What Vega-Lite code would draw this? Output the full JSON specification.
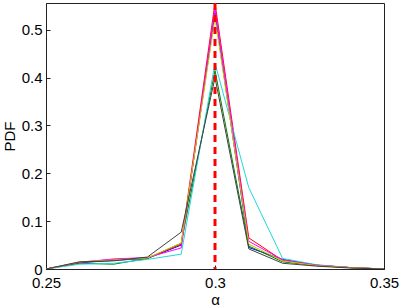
{
  "$schema": "https://vega.github.io/schema/vega-lite/v6.json",
  "width": 338,
  "height": 266,
  "autosize": "none",
  "padding": {"left": 46, "top": 3, "right": 18, "bottom": 37},
  "background": "white",
  "config": {
    "view": {"stroke": "#222", "strokeWidth": 1},
    "font": "Liberation Sans",
    "axis": {
      "grid": false,
      "domainColor": "#222",
      "tickColor": "#222",
      "labelColor": "#000",
      "titleColor": "#000",
      "labelFont": "Liberation Sans",
      "titleFont": "Liberation Sans",
      "labelFontSize": 15,
      "titleFontSize": 15,
      "titleFontWeight": "normal",
      "tickSize": -4
    }
  },
  "datasets": {
    "runs": [
      {"alpha": 0.25, "pdf": 0, "run": "1"}, {"alpha": 0.26, "pdf": 0.013, "run": "1"}, {"alpha": 0.27, "pdf": 0.018, "run": "1"}, {"alpha": 0.28, "pdf": 0.022, "run": "1"}, {"alpha": 0.29, "pdf": 0.05, "run": "1"}, {"alpha": 0.3, "pdf": 0.535, "run": "1"}, {"alpha": 0.31, "pdf": 0.045, "run": "1"}, {"alpha": 0.32, "pdf": 0.02, "run": "1"}, {"alpha": 0.33, "pdf": 0.008, "run": "1"}, {"alpha": 0.34, "pdf": 0.003, "run": "1"}, {"alpha": 0.35, "pdf": 0, "run": "1"},
      {"alpha": 0.25, "pdf": 0, "run": "2"}, {"alpha": 0.26, "pdf": 0.012, "run": "2"}, {"alpha": 0.27, "pdf": 0.01, "run": "2"}, {"alpha": 0.28, "pdf": 0.022, "run": "2"}, {"alpha": 0.29, "pdf": 0.054, "run": "2"}, {"alpha": 0.3, "pdf": 0.415, "run": "2"}, {"alpha": 0.31, "pdf": 0.048, "run": "2"}, {"alpha": 0.32, "pdf": 0.015, "run": "2"}, {"alpha": 0.33, "pdf": 0.007, "run": "2"}, {"alpha": 0.34, "pdf": 0.003, "run": "2"}, {"alpha": 0.35, "pdf": 0, "run": "2"},
      {"alpha": 0.25, "pdf": 0, "run": "3"}, {"alpha": 0.26, "pdf": 0.014, "run": "3"}, {"alpha": 0.27, "pdf": 0.02, "run": "3"}, {"alpha": 0.28, "pdf": 0.023, "run": "3"}, {"alpha": 0.29, "pdf": 0.052, "run": "3"}, {"alpha": 0.3, "pdf": 0.556, "run": "3"}, {"alpha": 0.31, "pdf": 0.065, "run": "3"}, {"alpha": 0.32, "pdf": 0.018, "run": "3"}, {"alpha": 0.33, "pdf": 0.008, "run": "3"}, {"alpha": 0.34, "pdf": 0.003, "run": "3"}, {"alpha": 0.35, "pdf": 0, "run": "3"},
      {"alpha": 0.25, "pdf": 0, "run": "4"}, {"alpha": 0.26, "pdf": 0.01, "run": "4"}, {"alpha": 0.27, "pdf": 0.012, "run": "4"}, {"alpha": 0.28, "pdf": 0.02, "run": "4"}, {"alpha": 0.29, "pdf": 0.031, "run": "4"}, {"alpha": 0.3, "pdf": 0.43, "run": "4"}, {"alpha": 0.31, "pdf": 0.17, "run": "4"}, {"alpha": 0.32, "pdf": 0.022, "run": "4"}, {"alpha": 0.33, "pdf": 0.009, "run": "4"}, {"alpha": 0.34, "pdf": 0.003, "run": "4"}, {"alpha": 0.35, "pdf": 0, "run": "4"},
      {"alpha": 0.25, "pdf": 0, "run": "5"}, {"alpha": 0.26, "pdf": 0.014, "run": "5"}, {"alpha": 0.27, "pdf": 0.021, "run": "5"}, {"alpha": 0.28, "pdf": 0.024, "run": "5"}, {"alpha": 0.29, "pdf": 0.044, "run": "5"}, {"alpha": 0.3, "pdf": 0.545, "run": "5"}, {"alpha": 0.31, "pdf": 0.058, "run": "5"}, {"alpha": 0.32, "pdf": 0.019, "run": "5"}, {"alpha": 0.33, "pdf": 0.008, "run": "5"}, {"alpha": 0.34, "pdf": 0.003, "run": "5"}, {"alpha": 0.35, "pdf": 0, "run": "5"},
      {"alpha": 0.25, "pdf": 0, "run": "6"}, {"alpha": 0.26, "pdf": 0.015, "run": "6"}, {"alpha": 0.27, "pdf": 0.019, "run": "6"}, {"alpha": 0.28, "pdf": 0.023, "run": "6"}, {"alpha": 0.29, "pdf": 0.054, "run": "6"}, {"alpha": 0.3, "pdf": 0.525, "run": "6"}, {"alpha": 0.31, "pdf": 0.052, "run": "6"}, {"alpha": 0.32, "pdf": 0.017, "run": "6"}, {"alpha": 0.33, "pdf": 0.007, "run": "6"}, {"alpha": 0.34, "pdf": 0.003, "run": "6"}, {"alpha": 0.35, "pdf": 0, "run": "6"},
      {"alpha": 0.25, "pdf": 0, "run": "7"}, {"alpha": 0.26, "pdf": 0.015, "run": "7"}, {"alpha": 0.27, "pdf": 0.017, "run": "7"}, {"alpha": 0.28, "pdf": 0.025, "run": "7"}, {"alpha": 0.29, "pdf": 0.077, "run": "7"}, {"alpha": 0.3, "pdf": 0.4, "run": "7"}, {"alpha": 0.31, "pdf": 0.042, "run": "7"}, {"alpha": 0.32, "pdf": 0.012, "run": "7"}, {"alpha": 0.33, "pdf": 0.006, "run": "7"}, {"alpha": 0.34, "pdf": 0.002, "run": "7"}, {"alpha": 0.35, "pdf": 0, "run": "7"}
    ],
    "truth": [{"alpha": 0.3}]
  },
  "layer": [
    {
      "data": {"name": "runs"},
      "mark": {"type": "line", "strokeWidth": 1, "clip": true},
      "encoding": {
        "x": {"field": "alpha", "type": "quantitative", "scale": {"domain": [0.25, 0.35], "nice": false, "zero": false},
              "axis": {"title": "α", "values": [0.25, 0.3, 0.35], "labelExpr": "format(datum.value, '~g')", "labelPadding": 10, "titlePadding": 2, "labelFlush": false}},
        "y": {"field": "pdf", "type": "quantitative", "scale": {"domain": [0, 0.556], "nice": false},
              "axis": {"title": "PDF", "values": [0, 0.1, 0.2, 0.3, 0.4, 0.5], "labelExpr": "format(datum.value, '~g')", "labelPadding": 8, "titlePadding": 4, "labelFlush": false}},
        "color": {"field": "run", "type": "nominal", "legend": null,
                  "scale": {"domain": ["1","2","3","4","5","6","7"], "range": ["#0000ff", "#008000", "#ff0000", "#20d8d8", "#ff00ff", "#c8c800", "#404040"]}}
      }
    },
    {
      "data": {"name": "truth"},
      "mark": {"type": "rule", "color": "#ff0000", "strokeWidth": 3, "strokeDash": [7, 5]},
      "encoding": {"x": {"field": "alpha", "type": "quantitative"}}
    }
  ]
}
